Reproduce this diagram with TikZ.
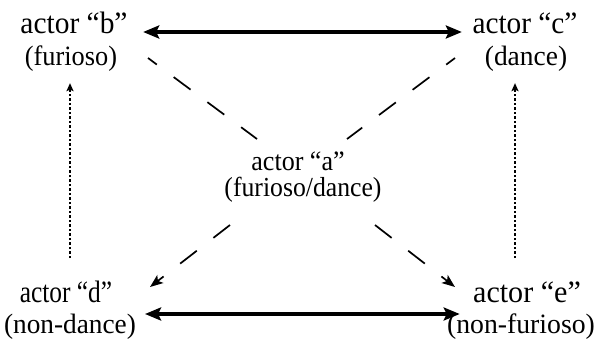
\documentclass[tikz,border=0pt]{standalone}
\usepackage{fontspec}
\usepackage{graphicx}
\setmainfont{Liberation Serif}
\usetikzlibrary{arrows.meta}
% #1 = font size, #2 = horizontal scale, #3 = text
\newcommand{\sqtxt}[3]{\fontsize{#1}{#1}\selectfont\scalebox{#2}[1]{#3}}
\begin{document}
\begin{tikzpicture}[x=1pt,y=-1pt,
  lbl/.style={anchor=base,inner sep=0pt},
  solidarrow/.style={line width=3.2pt,{Stealth[length=16pt,width=13pt,inset=3pt]}-{Stealth[length=16pt,width=13pt,inset=3pt]}},
  dashline/.style={line width=1.7pt,dash pattern=on 21pt off 21pt},
  dashhead/.style={line width=1.7pt,dash pattern=on 21pt off 21pt,-{Stealth[length=13pt,width=10pt,inset=3pt]}},
  dotarrow/.style={line width=1.5pt,dash pattern=on 2.5pt off 2pt,-{Stealth[length=8pt,width=7pt,inset=1.5pt]}},
]
\path[use as bounding box] (0,0) rectangle (597,343);

% labels
\node[lbl] (b) at (74,33) {\sqtxt{31}{0.95}{actor “b”}};
\node[lbl] (bs) at (71,65) {\sqtxt{28}{0.94}{(furioso)}};
\node[lbl] (c) at (525,33) {\sqtxt{31}{0.945}{actor “c”}};
\node[lbl] (cs) at (526,65) {\sqtxt{28}{0.98}{(dance)}};
\node[lbl] (a) at (298,170) {\sqtxt{28}{0.93}{actor “a”}};
\node[lbl] (as) at (303,196.5) {\sqtxt{27.5}{0.935}{(furioso/dance)}};
\node[lbl] (d) at (66,302) {\sqtxt{31}{0.82}{actor “d”}};
\node[lbl] (ds) at (70,333) {\sqtxt{28}{0.975}{(non-dance)}};
\node[lbl] (e) at (527,302) {\sqtxt{31}{0.97}{actor “e”}};
\node[lbl] (es) at (521,333) {\sqtxt{28}{0.99}{(non-furioso)}};

% solid double arrows
\draw[solidarrow,shorten <=15.4pt,shorten >=10.5pt] ([yshift=1pt]b.base east) -- ([yshift=1pt]c.base west);
\draw[solidarrow,shorten <=32.6pt,shorten >=13.3pt] ([yshift=-12pt]d.base east) -- ([yshift=-12pt]e.base west);

% dotted arrows
\coordinate (bdot) at ([xshift=-1pt,yshift=-12pt]bs.south);
\coordinate (cdot) at ([xshift=-11pt,yshift=-12pt]cs.south);
\coordinate (ddot) at (bdot |- 0,258);
\coordinate (edot) at (cdot |- 0,258);
\draw[dotarrow] (ddot) -- (bdot);
\draw[dotarrow] (edot) -- (cdot);

% dashed diagonals through actor a
\coordinate (bdash) at (148,58);
\coordinate (abl) at (257,139);
\coordinate (cdash) at (455,58);
\coordinate (abr) at (347,139);
\coordinate (adl) at (230,225);
\coordinate (adr) at (375,225);
\coordinate (dtip) at (150,287);
\coordinate (etip) at (455,287);
\draw[dashline,dash phase=10pt] (bdash) -- (abl);
\draw[dashline,dash phase=10pt] (cdash) -- (abr);
\draw[dashhead] (adl) -- (dtip);
\draw[dashhead] (adr) -- (etip);
\end{tikzpicture}
\end{document}
